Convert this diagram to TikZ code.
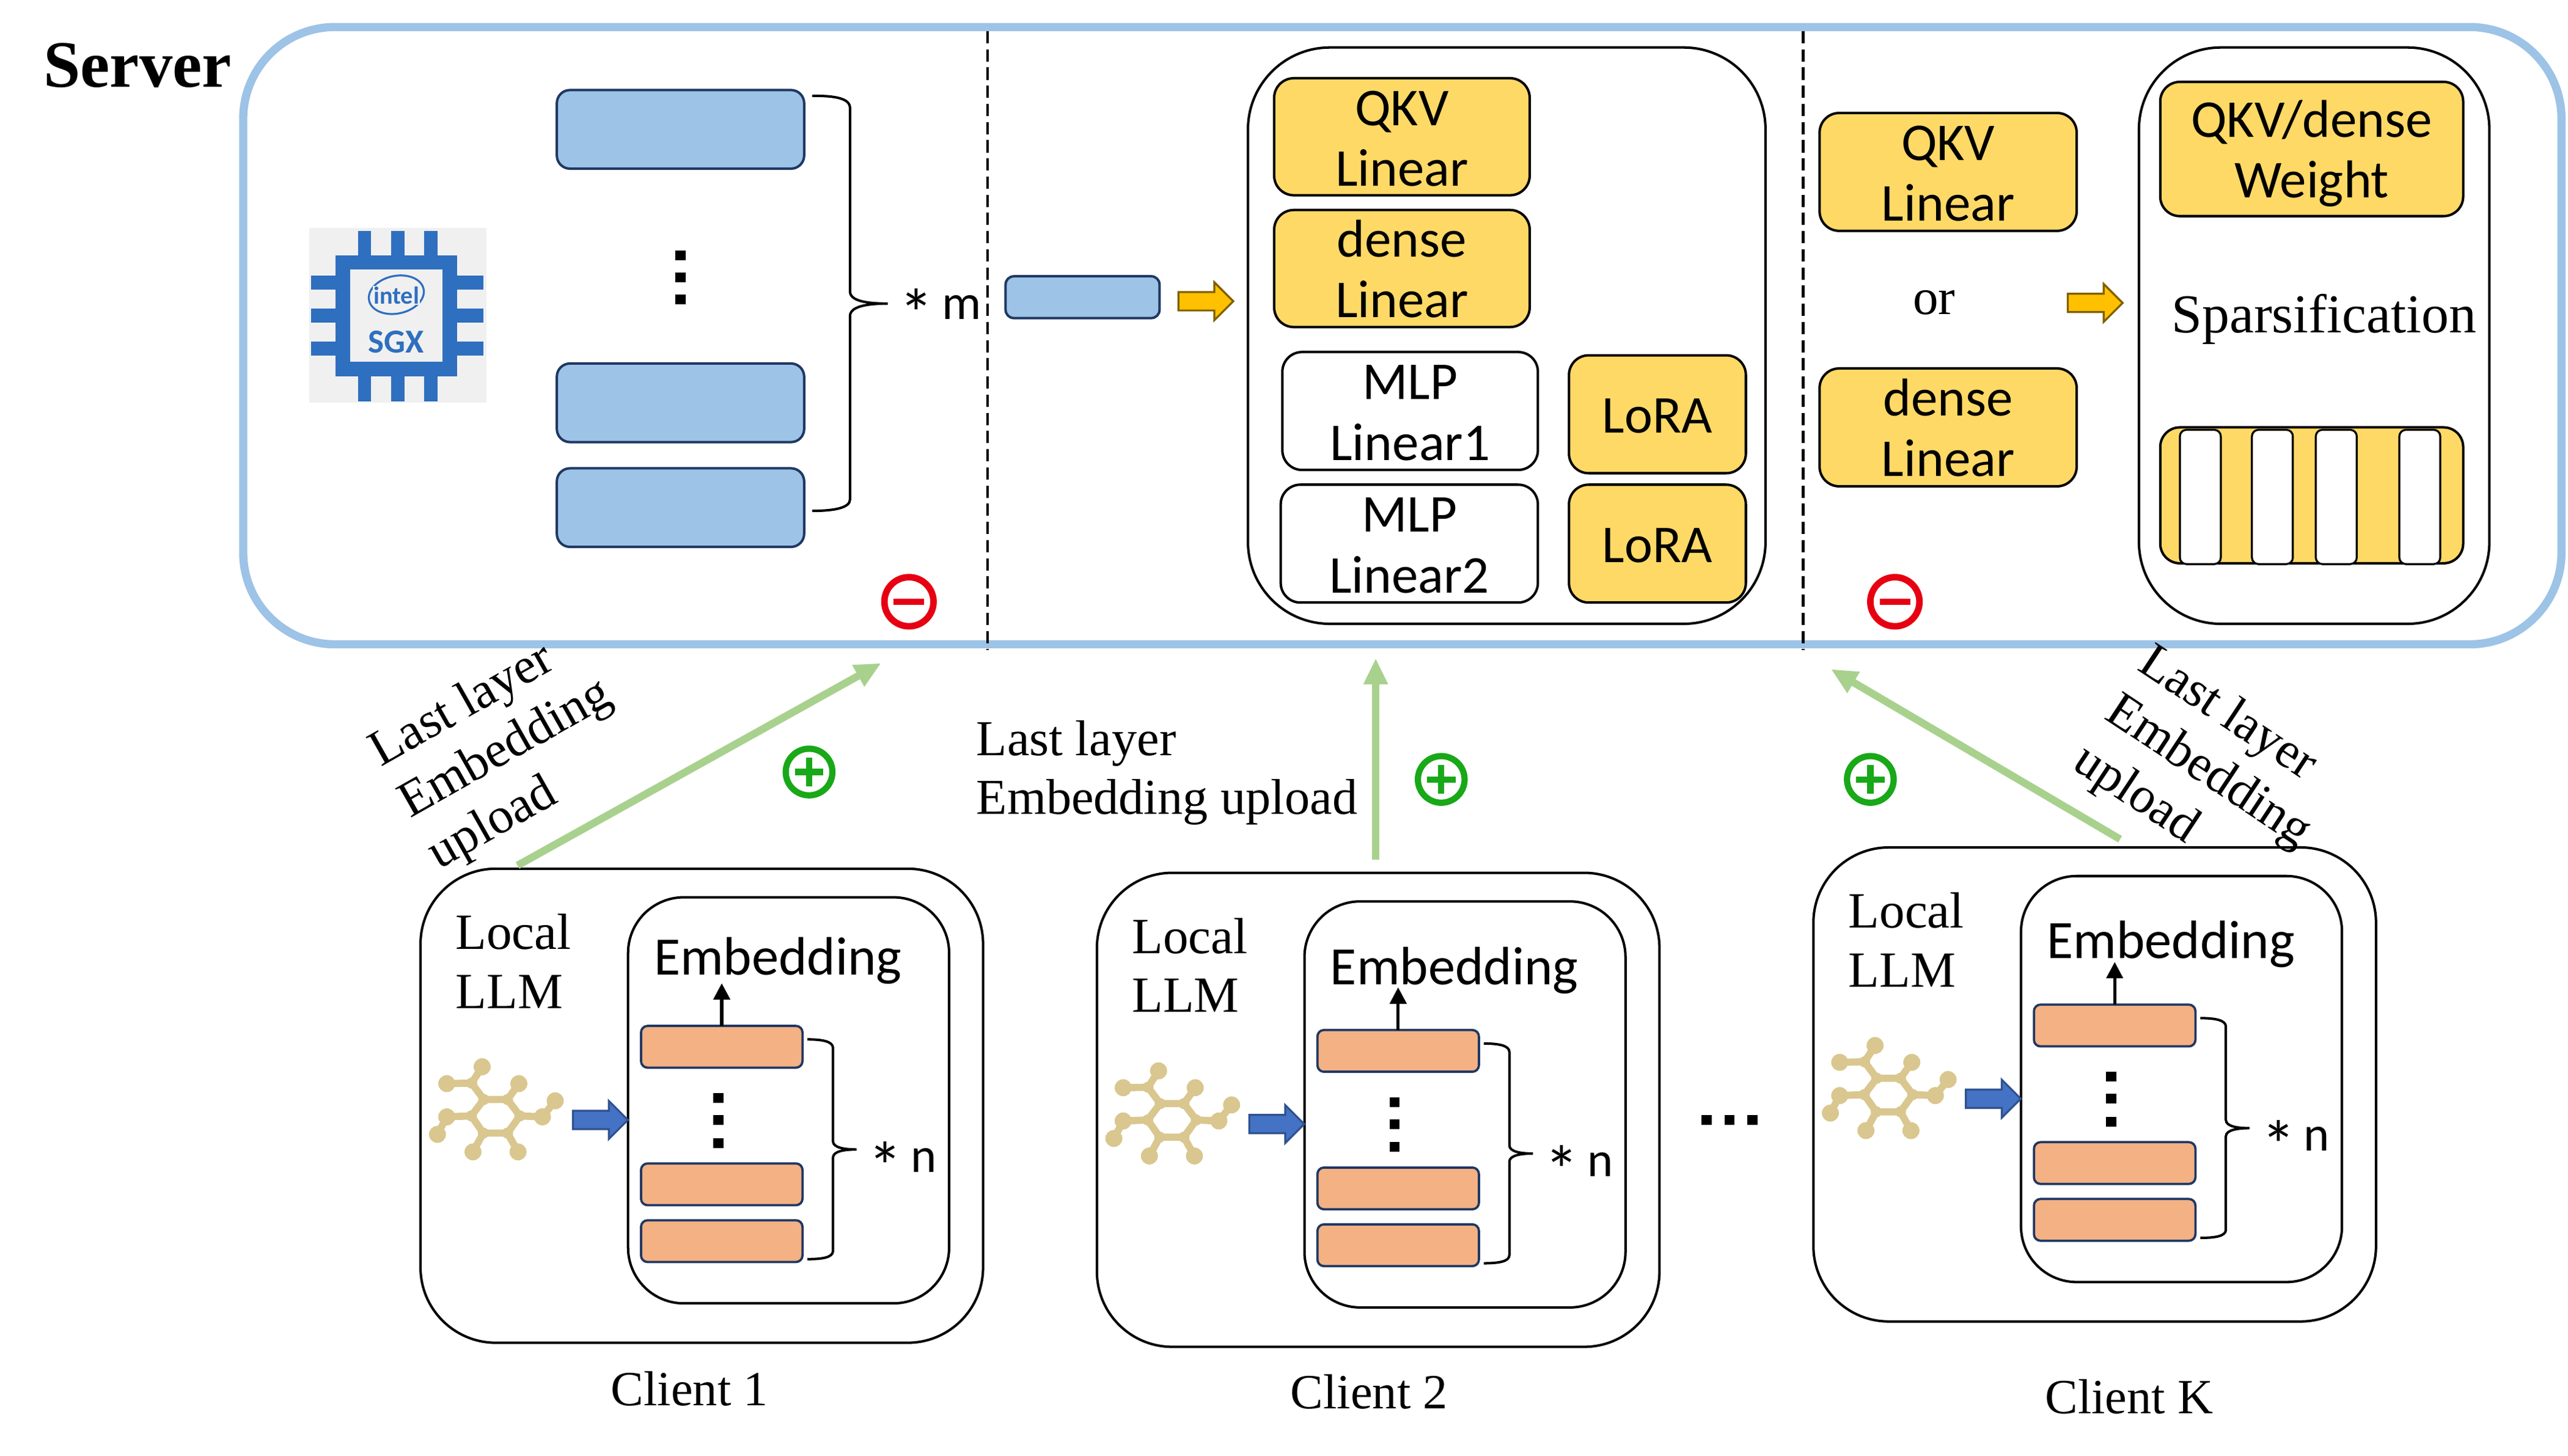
\documentclass[tikz,border=0pt]{standalone}
\usepackage{fontspec}
\setmainfont{Liberation Serif}
\newfontfamily\calib{Carlito}
\usepackage{tikz}
\usetikzlibrary{arrows.meta,shapes.arrows}
\definecolor{serverblue}{HTML}{9DC3E6}
\definecolor{navyline}{HTML}{1F3864}
\definecolor{gold}{HTML}{FFD966}
\definecolor{salmon}{HTML}{F4B183}
\definecolor{upgreen}{HTML}{A9D18E}
\definecolor{chipblue}{HTML}{2F6FBF}
\definecolor{moltan}{HTML}{D9C78F}
\definecolor{signred}{HTML}{E60012}
\definecolor{signgreen}{HTML}{18A818}
\definecolor{amber}{HTML}{FFC000}
\definecolor{amberline}{HTML}{7F6000}
\definecolor{feedblue}{HTML}{4472C4}
\definecolor{feedline}{HTML}{2F528F}
\newcommand{\bigstar}{{\fontsize{42}{42}\selectfont\raisebox{-11pt}{*}}}
\newcommand{\hs}{\rule{0pt}{28pt}}
\tikzset{
  box/.style={draw=black,line width=1.5pt,rounded corners=#1,inner sep=0pt,outer sep=0pt,align=center},
  box/.default=12pt,
  sans/.style={font=\calib\fontsize{32.5}{37}\selectfont},
  serif/.style={font=\fontsize{31}{36}\selectfont},
  filled/.style={box,sans,execute at end node={\rule[-5pt]{0pt}{5pt}}},
  goldbox/.style={filled,fill=gold},
  whitebox/.style={filled,fill=white},
  bluebar/.style={draw=navyline,line width=1.5pt,fill=serverblue,rounded corners=8pt,inner sep=0pt,outer sep=0pt},
  salmonbar/.style={draw=navyline,line width=1.4pt,fill=salmon,rounded corners=4pt,inner sep=0pt,outer sep=0pt,minimum width=98.6pt,minimum height=25.5pt},
  sparsebar/.style={draw=black,line width=1.2pt,fill=white,rounded corners=4pt,inner sep=0pt,outer sep=0pt,minimum width=25pt,minimum height=82pt},
  bracket/.style={draw=black,line width=1.5pt},
  dotmark/.style={fill=black,minimum width=6.2pt,minimum height=6pt,inner sep=0pt,outer sep=0pt},
  upload/.style={draw=upgreen,line width=4.6pt,-{Triangle[length=16pt,width=14pt]}},
  blockarrow/.style={single arrow,single arrow head extend=6pt,single arrow tip angle=90,minimum height=33.5pt,minimum width=22pt,inner xsep=0pt,inner ysep=5pt,outer sep=0pt,line width=1.2pt},
  minussign/.style={circle,draw=signred,line width=4pt,fill=white,minimum size=30pt,inner sep=0pt,outer sep=0pt,
    path picture={\fill[signred] ([shift={(-9.3pt,-1.9pt)}]path picture bounding box.center) rectangle ([shift={(9.3pt,1.9pt)}]path picture bounding box.center);}},
  plussign/.style={circle,draw=signgreen,line width=3.8pt,fill=white,minimum size=28.5pt,inner sep=0pt,outer sep=0pt,
    path picture={\fill[signgreen] ([shift={(-8.7pt,-1.9pt)}]path picture bounding box.center) rectangle ([shift={(8.7pt,1.9pt)}]path picture bounding box.center);
      \fill[signgreen] ([shift={(-1.9pt,-8.7pt)}]path picture bounding box.center) rectangle ([shift={(1.9pt,8.7pt)}]path picture bounding box.center);}},
  molecule/.pic={
    \draw[moltan,line width=4.4pt] (-7,-10) -- (7.5,-10) -- (15,0) -- (7.5,10.5) -- (-7.3,10.5) -- (-14.6,0) -- cycle;
    \draw[moltan,line width=4.4pt] (-7,-10) -- (-14.4,-20) -- (-8,-30) (-14.4,-20) -- (-29.6,-19.7) (7.5,-10) -- (14.4,-19.7);
    \draw[moltan,line width=4.4pt] (15,0) -- (28.8,.6) -- (36.6,-9.2) (-14.6,0) -- (-29.6,.6) -- (-35.3,11.3);
    \draw[moltan,line width=4.4pt] (-7.3,10.5) -- (-13.6,22) (7.5,10.5) -- (13.9,22);
    \foreach \x/\y in {-8/-30,-29.6/-19.7,14.4/-19.7,36.6/-9.2,-35.3/11.3,-13.6/22,13.9/22,28.8/.6,-29.6/.6}
      \fill[moltan] (\x,\y) circle (5.2pt);
    \foreach \x/\y in {-7/-10,7.5/-10,15/0,7.5/10.5,-7.3/10.5,-14.6/0,-14.4/-20}
      \fill[moltan] (\x,\y) circle (3.4pt);
  }
}
\begin{document}
\begin{tikzpicture}[x=1pt,y=-1pt]
  \useasboundingbox (0,0) rectangle (1568,889.2);

  \node[draw=serverblue,line width=5pt,rounded corners=56pt,minimum width=1415.5pt,minimum height=377pt,inner sep=0pt,outer sep=0pt] (server) at (856.25,205) {};
  \node[font=\bfseries\fontsize{40.5}{44}\selectfont,inner sep=0pt] (servertitle) at (84,40) {Server};

  \coordinate (cutAtop) at (603,19);
  \coordinate (cutAbot) at (603,397);
  \coordinate (cutBtop) at (1101,19);
  \coordinate (cutBbot) at (1101,397);
  \draw[line width=1.6pt,dash pattern=on 7.5pt off 3.6pt] (cutAtop) -- (cutAbot);
  \draw[line width=1.6pt,dash pattern=on 7.5pt off 3.6pt] (cutBtop) -- (cutBbot);

  % chip
  \fill[black!6] (189,139) rectangle (297,246);
  \foreach \x in {222.5,243,263}
    \fill[chipblue] (\x-4,141) rectangle (\x+4,245);
  \foreach \y in {172.7,192.7,212.8}
    \fill[chipblue] (190,\y-4.3) rectangle (295,\y+4.3);
  \fill[chipblue] (205,156) rectangle (279,230);
  \fill[black!6] (214,164.5) rectangle (270,221);
  \draw[chipblue,line width=1.2pt,rotate around={12:(242,180)}] (242,180) ellipse (17pt and 11.5pt);
  \node[fill=black!6,text=chipblue,font=\calib\bfseries\fontsize{15}{15}\selectfont,inner sep=0.4pt] (intel) at (242,180.5) {intel};
  \node[text=chipblue,font=\calib\bfseries\fontsize{20.5}{20.5}\selectfont,inner sep=0pt] (sgx) at (242,209) {SGX};

  \node[bluebar,minimum width=151pt,minimum height=48pt] (blockA) at (415.5,79) {};
  \node[bluebar,minimum width=151pt,minimum height=48pt] (blockB) at (415.5,246) {};
  \node[bluebar,minimum width=151pt,minimum height=48pt] (blockC) at (415.5,310) {};
  \foreach \y in {156,169.5,183}
    \node[dotmark] at (415.6,\y) {};
  \draw[bracket] (496,58.5) .. controls (510,58.5) and (519,60) .. (519,66) -- (519,178) .. controls (519,184) and (530,185.4) .. (542,185.4) .. controls (530,185.4) and (519,187) .. (519,193) -- (519,305) .. controls (519,310) and (510,312) .. (496,312);
  \node[font=\calib\fontsize{30}{30}\selectfont,inner sep=0pt,anchor=base west] (timesm) at (549,195) {\bigstar\,m};

  \node[bluebar,rounded corners=5pt,minimum width=94pt,minimum height=25.5pt] (blockD) at (661,181.5) {};
  \node[blockarrow,draw=amberline,fill=amber] (turnA) at (733.5,184) {};

  \node[box=50pt,minimum width=316pt,minimum height=352pt] (modelA) at (920,205) {};
  \node[goldbox,minimum width=156pt,minimum height=71.5pt] (qkvA) at (856,83.5) {\hs QKV\\Linear};
  \node[goldbox,minimum width=156pt,minimum height=71.5pt] (denseA) at (856,164) {\hs dense\\Linear};
  \node[whitebox,minimum width=156pt,minimum height=72pt] (mlpA) at (861,251) {\hs MLP\\Linear1};
  \node[whitebox,minimum width=157pt,minimum height=72pt] (mlpB) at (860.5,332) {\hs MLP\\Linear2};
  \node[goldbox,minimum width=108pt,minimum height=72pt] (loraA) at (1012,253) {\hs LoRA};
  \node[goldbox,minimum width=108pt,minimum height=72pt] (loraB) at (1012,332) {\hs LoRA};

  \node[goldbox,minimum width=157pt,minimum height=72pt] (qkvB) at (1189.5,105) {\hs QKV\\Linear};
  \node[font=\fontsize{31}{31}\selectfont,inner sep=0pt] (ortext) at (1181,185) {or};
  \node[goldbox,minimum width=157pt,minimum height=72pt] (denseB) at (1189.5,261) {\hs dense\\Linear};
  \node[blockarrow,draw=amberline,fill=amber] (turnB) at (1276.5,185) {};

  \node[box=50pt,minimum width=214pt,minimum height=352pt] (modelB) at (1413,205) {};
  \node[goldbox,minimum width=185pt,minimum height=82pt] (weight) at (1411.5,91) {\hs QKV/dense\\Weight};
  \node[font=\fontsize{33.5}{33.5}\selectfont,inner sep=0pt] (sparse) at (1419,195) {Sparsification};
  \node[goldbox,minimum width=185pt,minimum height=83pt] (stripe) at (1411.5,302.5) {};
  \foreach \x in {1343.5,1387.5,1426.5,1477.5}
    \node[sparsebar] at (\x,303.5) {};

  \node[minussign] (minusA) at (555,367.5) {};
  \node[minussign] (minusB) at (1157,367.5) {};

  \foreach \c/\dx/\dy/\ey/\lx/\ly/\cname in {1/0/0/586.6/421/848/Client 1,2/413/2.5/590.1/836/850/Client 2,K/850.5/-13/589.6/1300/853/Client K}{
    \begin{scope}[shift={(\dx,\dy)}]
      \node[box=46pt,minimum width=343.5pt,minimum height=289.5pt] (outer\c) at (428.5,675.3) {};
      \node[box=34pt,minimum width=196pt,minimum height=248pt] (inner\c) at (481.5,672) {};
      \node[serif,align=left,inner sep=0pt,anchor=west] (local\c) at (278,587) {Local\\LLM};
      \node[sans,font=\calib\fontsize{33}{37}\selectfont,inner sep=0pt] (embed\c) at (475,\ey) {Embedding};
      \pic at (302.4,681.5) {molecule};
      \node[blockarrow,draw=feedline,fill=feedblue] (feed\c) at (363.8,684) {};
      \node[salmonbar] (layerA\c) at (440.7,639.3) {};
      \node[salmonbar] (layerB\c) at (440.7,723.3) {};
      \node[salmonbar] (layerC\c) at (440.7,758) {};
      \coordinate (out\c) at (440.7,600.5);
      \draw[line width=2pt,-{Triangle[length=10pt,width=10pt]}] (layerA\c) -- (out\c);
      \foreach \y in {670.6,684,698}
        \node[dotmark] at (438.6,\y) {};
      \draw[bracket] (493,634.8) .. controls (502,634.8) and (508.6,636) .. (508.6,640) -- (508.6,697) .. controls (508.6,701) and (516,702) .. (523,702) .. controls (516,702) and (508.6,703) .. (508.6,707) -- (508.6,764) .. controls (508.6,768) and (502,769) .. (493,769);
      \node[font=\calib\fontsize{30}{30}\selectfont,inner sep=0pt,anchor=base west] (timesn\c) at (530,716) {\bigstar\,n};
    \end{scope}
    \node[font=\fontsize{30}{30}\selectfont,inner sep=0pt] (name\c) at (\lx,\ly) {\cname};
  }

  \foreach \x in {1042,1056,1070}
    \node[dotmark] at (\x,684) {};

  \coordinate (headA) at (538,405);
  \coordinate (headB) at (840,402);
  \coordinate (headC) at (1118,408.7);
  \draw[upload] ([xshift=-112.5pt,yshift=2pt]outer1.north) -- (headA);
  \draw[upload] ([xshift=-1.5pt,yshift=8pt]outer2.north) -- (headB);
  \draw[upload] ([xshift=15.5pt,yshift=5pt]outerK.north) -- (headC);

  \node[plussign] (plusA) at (494,471.5) {};
  \node[plussign] (plusB) at (880,476) {};
  \node[plussign] (plusC) at (1142,476) {};

  \node[serif,align=left,inner sep=0pt,rotate=29.5] (labelA) at (309,458) {Last layer\\Embedding\\upload};
  \node[serif,font=\fontsize{30.7}{36}\selectfont,align=left,inner sep=0pt,anchor=west] (labelB) at (596,472) {Last layer\\Embedding upload};
  \node[serif,align=left,inner sep=0pt,rotate=-33.5] (labelC) at (1348,472) {Last layer\\Embedding\\upload};
\end{tikzpicture}
\end{document}
